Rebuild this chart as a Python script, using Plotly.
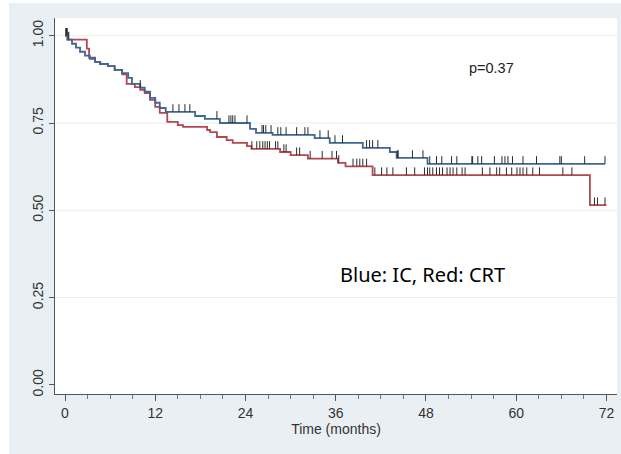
import plotly.graph_objects as go
import bisect

# ---- data (months, survival) ----
blue_times = [0, 0.4, 0.93, 1.46, 2.0, 2.66, 3.3, 4.0, 4.65, 5.7, 6.6, 7.6, 8.4, 8.9, 10.0,
              10.6, 11.3, 12.0, 12.6, 13.4, 17.3, 18.6, 20.6, 24.6, 25.4, 27.6, 33.2, 35.2,
              39.6, 43.2, 44.1, 48.2]
blue_surv = [1.0, 0.989, 0.977, 0.966, 0.954, 0.943, 0.934, 0.925, 0.919, 0.913, 0.902, 0.893,
             0.879, 0.862, 0.851, 0.840, 0.822, 0.808, 0.793, 0.782, 0.770, 0.762, 0.750, 0.733,
             0.722, 0.716, 0.707, 0.693, 0.679, 0.667, 0.650, 0.633]
blue_end = 71.8

red_times = [0, 0.3, 2.9, 3.2, 4.0, 4.7, 5.7, 6.6, 7.6, 8.2, 9.3, 10.0, 10.6, 11.3, 12.0, 12.6,
             13.6, 15.0, 15.7, 18.9, 19.3, 20.2, 21.5, 22.3, 24.2, 24.8, 28.6, 30.0, 32.3, 36.3,
             37.3, 40.9, 69.8]
red_surv = [1.0, 0.989, 0.963, 0.937, 0.925, 0.919, 0.913, 0.902, 0.889, 0.862, 0.853, 0.845,
            0.836, 0.816, 0.796, 0.779, 0.753, 0.744, 0.739, 0.730, 0.724, 0.710, 0.701, 0.693,
            0.684, 0.676, 0.667, 0.658, 0.648, 0.636, 0.626, 0.601, 0.515]
red_end = 72.0

blue_censored = [0.1, 0.3, 0.5, 10.0, 14.35, 15.15, 15.95, 16.6, 20.2, 21.8, 22.06, 22.3, 22.6,
                 24.2, 26.2, 26.4, 26.7, 27.4, 28.3, 28.7, 29.4, 30.8, 31.9, 32.3, 33.9, 35.0,
                 35.9, 36.9, 40.1, 40.5, 40.9, 41.6, 44.2, 44.3, 46.2, 47.6, 48.5, 49.4, 50.1,
                 51.4, 52.1, 54.1, 54.2, 54.9, 55.4, 57.1, 58.1, 58.5, 58.9, 59.5, 60.9, 62.7,
                 65.8, 66.0, 69.1, 71.8]
red_censored = [0.2, 0.4, 24.85, 25.5, 25.9, 26.3, 26.6, 26.9, 27.2, 28.0, 28.3, 29.1, 29.4,
                30.8, 31.2, 32.6, 34.2, 35.5, 36.1, 36.4, 38.3, 38.8, 39.2, 39.6, 40.1, 41.2,
                42.1, 42.8, 43.6, 45.4, 46.5, 47.8, 48.2, 48.5, 48.9, 49.4, 49.8, 50.2, 50.8,
                51.2, 51.6, 52.1, 52.8, 53.2, 55.5, 56.5, 57.4, 57.8, 58.7, 59.4, 60.1, 60.5,
                60.9, 61.4, 62.2, 63.1, 66.2, 67.4, 70.4, 70.8, 71.8]

x_ticks = [0, 12, 24, 36, 48, 60, 72]
y_ticks = [0.0, 0.25, 0.5, 0.75, 1.0]
y_tick_text = ["0.00", "0.25", "0.50", "0.75", "1.00"]
grid_levels = [0.25, 0.5, 0.75, 1.0]

BLUE = "#3e6792"
RED = "#b3474f"
TICKC = "#2a2a2a"
TICK_H = 0.022


def surv_at(times, surv, t):
    i = bisect.bisect_right(times, t) - 1
    return surv[max(i, 0)]


def censor_segments(times, surv, cens):
    xs, ys = [], []
    for t in cens:
        s = surv_at(times, surv, t)
        xs += [t, t, None]
        ys += [s, s + TICK_H, None]
    return xs, ys


fig = go.Figure()

for times, surv, end, col, cens in [
    (red_times, red_surv, red_end, RED, red_censored),
    (blue_times, blue_surv, blue_end, BLUE, blue_censored),
]:
    fig.add_trace(go.Scatter(x=times + [end], y=surv + [surv[-1]], mode="lines",
                             line=dict(color=col, width=1.8, shape="hv"),
                             showlegend=False, hoverinfo="skip"))
    cx, cy = censor_segments(times, surv, cens)
    fig.add_trace(go.Scatter(x=cx, y=cy, mode="lines",
                             line=dict(color=TICKC, width=1),
                             showlegend=False, hoverinfo="skip"))

shapes = []
for g in grid_levels:
    shapes.append(dict(type="line", xref="paper", yref="y", x0=0, x1=1, y0=g, y1=g,
                       line=dict(color="#e9ecee", width=1), layer="below"))
# white page strips outside the grey panel
shapes.append(dict(type="rect", xref="paper", yref="paper", x0=-0.2, x1=-0.0819,
                   y0=-0.3, y1=1.2, fillcolor="white", line=dict(width=0), layer="above"))
shapes.append(dict(type="rect", xref="paper", yref="paper", x0=-0.2, x1=1.2,
                   y0=1.04, y1=1.2, fillcolor="white", line=dict(width=0), layer="above"))

fig.update_layout(
    width=621, height=454,
    margin=dict(l=55, r=4, t=18, b=60),
    paper_bgcolor="#e9eff3",
    plot_bgcolor="white",
    font=dict(family="Liberation Sans, Arial, sans-serif", size=14, color="#333333"),
    shapes=shapes,
    xaxis=dict(range=[-1.33, 73.4], tickvals=x_ticks, showgrid=False, zeroline=False,
               showline=True, linecolor="#555555", linewidth=1,
               ticks="outside", ticklen=6, tickcolor="#555555",
               minor=dict(dtick=3, tick0=0, ticks="outside", ticklen=4, tickcolor="#777777"),
               title=dict(text="Time (months)", font=dict(size=14, color="#333333"), standoff=2),
               tickfont=dict(size=14, color="#333333")),
    yaxis=dict(range=[-0.026, 1.0507], tickvals=y_ticks, ticktext=y_tick_text,
               showgrid=False, zeroline=False, showline=True, linecolor="#555555", linewidth=1,
               ticks="outside", ticklen=5, tickcolor="#555555", tickangle=-90,
               tickfont=dict(size=14, color="#333333")),
    annotations=[
        dict(x=56.7, y=0.907, xref="x", yref="y", text="p=0.37", showarrow=False,
             font=dict(size=14.5, color="#222222", family="Liberation Sans, Arial")),
        dict(x=47.6, y=0.315, xref="x", yref="y", text="Blue: IC, Red: CRT", showarrow=False,
             font=dict(size=20, color="black", family="Noto Sans, Open Sans, sans-serif")),
    ],
)

fig.write_html("out.html")
